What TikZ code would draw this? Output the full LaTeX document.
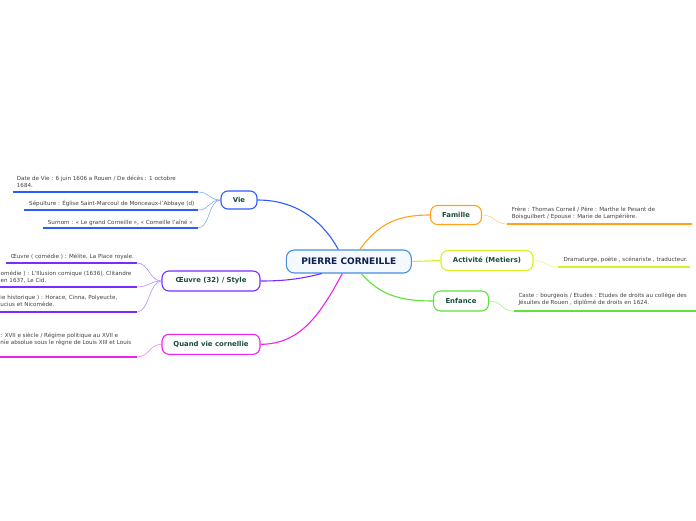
\documentclass[tikz,border=0pt]{standalone}
\usepackage{fontspec}
\setmainfont{DejaVu Sans}
\usetikzlibrary{calc}
\definecolor{cblue}{HTML}{2B5CFF}
\definecolor{cpurple}{HTML}{7A2CFF}
\definecolor{cmagenta}{HTML}{EE22EE}
\definecolor{corange}{HTML}{FFA31A}
\definecolor{cyellow}{HTML}{D8EF2A}
\definecolor{cgreen}{HTML}{5DE33A}
\definecolor{ccenter}{HTML}{4A8FDB}
\definecolor{cfill}{HTML}{F4F9FF}
\definecolor{ntext}{HTML}{1B4D3E}
\definecolor{ctext}{HTML}{0F1F50}
\definecolor{ltext}{HTML}{404040}
\tikzset{
  topic/.style={draw, rounded corners=7pt, line width=1.1pt, fill=white, text=ntext,
    font=\fontsize{6.9}{7}\selectfont\bfseries, inner sep=0pt, anchor=center},
  central/.style={draw=ccenter, rounded corners=8pt, line width=1.1pt, fill=cfill, text=ctext,
    font=\fontsize{9}{9}\selectfont\bfseries, inner sep=0pt, anchor=center,
    minimum width=125pt, minimum height=23pt},
  leaf/.style={font=\fontsize{5.6}{6.9}\selectfont, text=ltext, align=left, inner sep=0pt, anchor=base west},
  uline/.style={line width=2pt},
  mainlink/.style={line width=1.1pt},
  leaflink/.style={line width=0.6pt},
}
\begin{document}
\begin{tikzpicture}[x=1pt,y=-1pt]
\useasboundingbox (0,0) rectangle (696,520);
% central
\node[central] (c) at (348.8,261.5) {PIERRE CORNEILLE};
% topics
\node[topic, draw=cblue, minimum width=36pt, minimum height=18pt] (vie) at (239,200) {Vie};
\node[topic, draw=cpurple, minimum width=98pt, minimum height=20pt] (oeuvre) at (211,281) {Œuvre (32) / Style};
\node[topic, draw=cmagenta, minimum width=98pt, minimum height=20pt] (quand) at (211,344.3) {Quand vie cornellie};
\node[topic, draw=corange, minimum width=51pt, minimum height=19pt] (fam) at (456,215) {Famille};
\node[topic, draw=cyellow, minimum width=92pt, minimum height=20pt] (act) at (487,260.5) {Activité (Metiers)};
\node[topic, draw=cgreen, minimum width=55pt, minimum height=20pt] (enf) at (461,301) {Enfance};
% main links
\coordinate (cb) at ($(c.north)+(-10.5,0)$);
\coordinate (co) at ($(c.north)+(11,0)$);
\coordinate (cp) at ($(c.south)+(-27,0)$);
\coordinate (cm) at ($(c.south)+(-6.5,0)$);
\coordinate (cg) at ($(c.south)+(12.5,0)$);
\draw[mainlink, cblue] (cb) .. controls (325,225) and (300,200) .. (vie.east);
\draw[mainlink, corange] (co) .. controls (378,225) and (395,215) .. (fam.west);
\draw[mainlink, cyellow] (c.east) -- (act.west);
\draw[mainlink, cgreen] (cg) .. controls (380,295) and (400,301) .. (enf.west);
\draw[mainlink, cmagenta] (cm) .. controls (320,315) and (300,344.3) .. (quand.east);
\draw[mainlink, cpurple] (cp) .. controls (300,279) and (285,281) .. (oeuvre.east);
% Vie leaves
\node[leaf] (v1) at (16.7,187.5) {Date de Vie : 6 juin 1606 a Rouen / De décès : 1 octobre\\1684.};
\node[leaf] (v2) at (29,205.7) {Sépulture : Église Saint-Marcoul de Monceaux-l'Abbaye (d)};
\node[leaf] (v3) at (47.7,224) {Surnom : « Le grand Corneille », « Corneille l'aîné »};
\coordinate (v1a) at (12.7,192); \coordinate (v1b) at (198,192);
\coordinate (v2a) at (24,210); \coordinate (v2b) at (198,210);
\coordinate (v3a) at (42.7,228); \coordinate (v3b) at (198,228);
\draw[uline, cblue] (v1a) -- (v1b);
\draw[uline, cblue] (v2a) -- (v2b);
\draw[uline, cblue] (v3a) -- (v3b);
\foreach \e in {v1b,v2b,v3b}
  \draw[leaflink, cblue!55] (vie.west) .. controls +(-12,0) and +(12,0) .. (\e);
% Oeuvre leaves
\node[leaf] (o1) at (10.7,258.3) {Œuvre ( comédie ) : Mélite, La Place royale.};
\node[leaf] (o2) at (0.5,282.3) {omédie ) :  L'Illusion comique (1636), Clitandre\\en 1637, Le Cid.};
\node[leaf] (o3) at (0.3,306.7) {ie historique ) :  Horace, Cinna, Polyeucte,\\ucius et Nicomède.};
\coordinate (o1a) at (6,263); \coordinate (o1b) at (137,263);
\coordinate (o2a) at (-2,287); \coordinate (o2b) at (137,287);
\coordinate (o3a) at (-2,312); \coordinate (o3b) at (137,312);
\draw[uline, cpurple] (o1a) -- (o1b);
\draw[uline, cpurple] (o2a) -- (o2b);
\draw[uline, cpurple] (o3a) -- (o3b);
\foreach \e in {o1b,o2b,o3b}
  \draw[leaflink, cpurple!55] (oeuvre.west) .. controls +(-12,0) and +(12,0) .. (\e);
% Quand leaf
\node[leaf] (q1) at (0.3,344) {: XVII e siècle / Régime politique au XVII e\\nie absolue sous le règne de Louis XIII et Louis};
\coordinate (q1a) at (-2,357); \coordinate (q1b) at (137,357);
\draw[uline, cmagenta] (q1a) -- (q1b);
\draw[leaflink, cmagenta!55] (quand.west) .. controls +(-12,0) and +(12,0) .. (q1b);
% Famille leaf
\node[leaf] (f1) at (511.7,218.3) {Frère : Thomas Corneil / Père : Marthe le Pesant de\\Boisguilbert / Epouse : Marie de Lampérière.};
\coordinate (f1a) at (507,224); \coordinate (f1b) at (692,224);
\draw[uline, corange] (f1a) -- (f1b);
\draw[leaflink, corange!55] (fam.east) .. controls +(13,0) and +(-13,0) .. (f1a);
% Activite leaf
\node[leaf] (a1) at (563.3,261) {Dramaturge, poète , scénariste , traducteur.};
\coordinate (a1a) at (558,267); \coordinate (a1b) at (690,267);
\draw[uline, cyellow] (a1a) -- (a1b);
\draw[leaflink, cyellow!55] (act.east) .. controls +(13,0) and +(-13,0) .. (a1a);
% Enfance leaf
\node[leaf] (e1) at (518.3,304.3) {Caste : bourgeois / Etudes : Etudes de droits au collège des\\Jésuites de Rouen , diplômé de droits en 1624.};
\coordinate (e1a) at (514,311); \coordinate (e1b) at (698,311);
\draw[uline, cgreen] (e1a) -- (e1b);
\draw[leaflink, cgreen!55] (enf.east) .. controls +(13,0) and +(-13,0) .. (e1a);
\end{tikzpicture}
\end{document}
